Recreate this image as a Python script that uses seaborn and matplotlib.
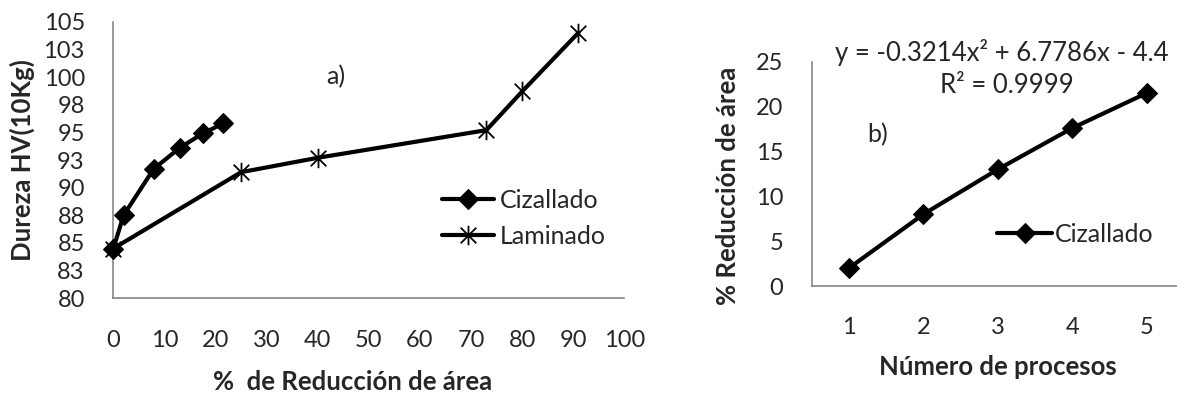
import numpy as np
import matplotlib
matplotlib.use("Agg")
import matplotlib.pyplot as plt
import seaborn as sns
from matplotlib.path import Path
from matplotlib.ticker import MultipleLocator, FuncFormatter

# =============================================================================
# Datos
# =============================================================================
# a) Dureza vs % de reduccion de area
reduccion_cizallado = [0, 2.0, 7.9, 13.0, 17.5, 21.5]
dureza_cizallado = [84.5, 87.5, 91.7, 93.6, 94.9, 95.8]

reduccion_laminado = [0, 25, 40, 73, 80, 91]
dureza_laminado = [84.5, 91.4, 92.7, 95.2, 98.7, 104.0]

# b) % de reduccion vs numero de procesos
procesos = [1, 2, 3, 4, 5]
reduccion_procesos = [2.0, 8.0, 13.0, 17.6, 21.5]

ecuacion = "y = -0.3214x² + 6.7786x - 4.4"
r_cuadrado = "R² = 0.9999"

# =============================================================================
# Estilo
# =============================================================================
sns.set_style("white")
plt.rcParams['font.family'] = ['Lato', 'DejaVu Sans']
GRIS = '#868686'
FS_TICK = 17
FS_LAB = 18.5
FS_TXT = 18

# marcador tipo asterisco (linea vertical + X)
asterisco = Path(
    [(0, -1), (0, 1), (-0.8, -0.8), (0.8, 0.8), (-0.8, 0.8), (0.8, -0.8)],
    [Path.MOVETO, Path.LINETO, Path.MOVETO, Path.LINETO, Path.MOVETO, Path.LINETO],
)

fig = plt.figure(figsize=(11.77, 3.94), dpi=100)
ax1 = fig.add_axes([0.0963, 0.2429, 0.4342, 0.7020])
ax2 = fig.add_axes([0.6897, 0.2741, 0.3161, 0.5693])


def estilo_ejes(ax):
    sns.despine(ax=ax)
    for s in ['left', 'bottom']:
        ax.spines[s].set_color(GRIS)
        ax.spines[s].set_linewidth(1.2)
    ax.tick_params(which='both', direction='out', color=GRIS, width=1.2)
    ax.tick_params(which='major', length=5.5, labelsize=FS_TICK)
    ax.tick_params(which='minor', length=3.5)
    ax.tick_params(axis='y', which='major', pad=15)
    ax.tick_params(axis='x', which='major', pad=17)
    ax.grid(False)


# -----------------------------------------------------------------------------
# Grafico a)
# -----------------------------------------------------------------------------
sns.lineplot(ax=ax1, x=reduccion_cizallado, y=dureza_cizallado, color='black',
             linewidth=3, marker='D', markersize=10, markeredgecolor='black',
             label='Cizallado', clip_on=False, zorder=3)
sns.lineplot(ax=ax1, x=reduccion_laminado, y=dureza_laminado, color='black',
             linewidth=3, marker=asterisco, markersize=14, markeredgewidth=1.3,
             markeredgecolor='black', markerfacecolor='none',
             label='Laminado', clip_on=False, zorder=3)

ax1.set_xlim(0, 100)
ax1.set_ylim(80, 105)
ax1.xaxis.set_major_locator(MultipleLocator(10))
ax1.xaxis.set_minor_locator(MultipleLocator(2))
ax1.yaxis.set_major_locator(MultipleLocator(2.5))
ax1.yaxis.set_minor_locator(MultipleLocator(0.5))
# Excel redondea las etiquetas (82.5 -> 83)
ax1.yaxis.set_major_formatter(FuncFormatter(lambda v, p: f"{int(np.floor(v + 0.5))}"))
estilo_ejes(ax1)

ax1.set_ylabel('Dureza HV(10Kg)', fontsize=FS_LAB, fontweight='bold')
ax1.yaxis.set_label_coords(-0.153, 0.5)
ax1.set_xlabel('%  de Reducción de área', fontsize=FS_LAB, fontweight='bold',
               va='center')
ax1.xaxis.set_label_coords(0.469, -0.303)
ax1.text(0.436, 0.80, 'a)', transform=ax1.transAxes, fontsize=FS_TXT,
         ha='center', va='center')

ax1.legend(loc='upper left', bbox_to_anchor=(0.643, 0.395), frameon=False,
           fontsize=FS_TXT, handlelength=2.1, handletextpad=0.2, labelspacing=0.5,
           borderaxespad=0, borderpad=0)

# -----------------------------------------------------------------------------
# Grafico b)
# -----------------------------------------------------------------------------
sns.lineplot(ax=ax2, x=procesos, y=reduccion_procesos, color='black',
             linewidth=3, marker='D', markersize=10, markeredgecolor='black',
             label='Cizallado', clip_on=False, zorder=3)

ax2.set_xlim(0.5, 5.5)
ax2.set_ylim(0, 25)
ax2.set_xticks(procesos)
ax2.yaxis.set_major_locator(MultipleLocator(5))
ax2.yaxis.set_minor_locator(MultipleLocator(1))
estilo_ejes(ax2)

ax2.set_ylabel('% Reducción de área', fontsize=FS_LAB, fontweight='bold')
ax2.yaxis.set_label_coords(-0.193, 0.445)
ax2.set_xlabel('Número de procesos', fontsize=FS_LAB, fontweight='bold',
               va='center')
ax2.xaxis.set_label_coords(0.5, -0.361)

ax2.text(0.178, 0.673, 'b)', transform=ax2.transAxes, fontsize=FS_TXT,
         ha='center', va='center')
ax2.text(0.511, 1.043, ecuacion, transform=ax2.transAxes, fontsize=18.5,
         ha='center', va='center')
ax2.text(0.525, 0.892, r_cuadrado, transform=ax2.transAxes, fontsize=18.5,
         ha='center', va='center')

ax2.legend(loc='upper left', bbox_to_anchor=(0.498, 0.281), frameon=False,
           fontsize=FS_TXT, handlelength=2.2, handletextpad=0.1,
           borderaxespad=0, borderpad=0)

fig.savefig('out.png', dpi=100)
